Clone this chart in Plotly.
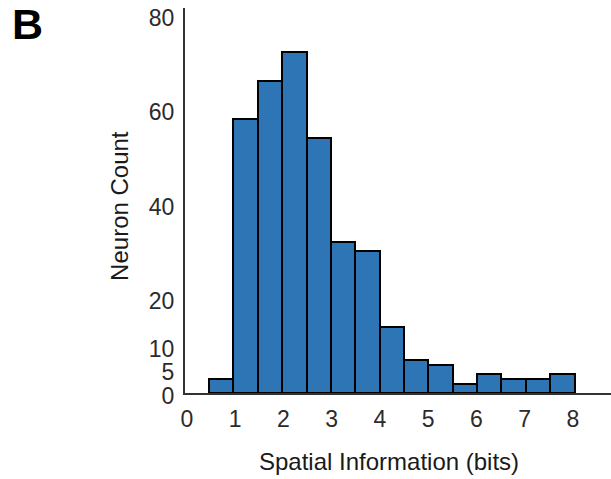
import plotly.graph_objects as go

# Histogram of spatial information per neuron (bin edges start at 0.46, width 0.505 bits)
bin_start = 0.46
bin_width = 0.505
counts = [3, 58, 66, 72, 54, 32, 30, 14, 7, 6, 2, 4, 3, 3, 4]

y_tickvals = [0, 5, 10, 20, 40, 60, 80]
x_tickvals = [0, 1, 2, 3, 4, 5, 6, 7, 8]

centers = [bin_start + bin_width * (i + 0.5) for i in range(len(counts))]

FONT = "Liberation Sans, Arial, sans-serif"
TICK_COLOR = "#2b2b2b"

fig = go.Figure(
    go.Bar(
        x=centers,
        y=counts,
        width=[bin_width] * len(counts),
        marker=dict(color="#2E75B6", line=dict(color="#000000", width=2)),
        hoverinfo="x+y",
    )
)

fig.update_layout(
    width=611,
    height=479,
    margin=dict(l=185, r=0, t=8, b=86),
    plot_bgcolor="white",
    paper_bgcolor="white",
    showlegend=False,
    font=dict(family=FONT, size=23, color=TICK_COLOR),
    bargap=0,
)

fig.update_xaxes(
    range=[-0.04, 8.79],
    tickvals=x_tickvals,
    ticks="",
    showgrid=False,
    zeroline=False,
    showline=True,
    linecolor="#333333",
    linewidth=2,
    tickfont=dict(family=FONT, size=23, color=TICK_COLOR),
    ticklabelstandoff=4,
)

fig.update_yaxes(
    range=[0, 81.4],
    tickvals=y_tickvals,
    ticks="",
    showgrid=False,
    zeroline=False,
    showline=True,
    linecolor="#333333",
    linewidth=2,
    tickfont=dict(family=FONT, size=23, color=TICK_COLOR),
    ticklabelstandoff=4,
    ticklabelshift=3,
    ticklabeloverflow="allow",
)

# Axis titles and panel letter
fig.add_annotation(
    text="Spatial Information (bits)",
    xref="paper", yref="paper", x=0.478, y=0,
    xanchor="center", yanchor="middle", yshift=-68,
    showarrow=False, font=dict(family=FONT, size=24, color="#1a1a1a"),
)
fig.add_annotation(
    text="Neuron Count",
    xref="paper", yref="paper", x=0, y=0.486,
    xanchor="center", yanchor="middle", xshift=-65,
    textangle=-90,
    showarrow=False, font=dict(family=FONT, size=24, color="#1a1a1a"),
)
fig.add_annotation(
    text="<b>B</b>",
    xref="paper", yref="paper", x=0, y=1,
    xanchor="center", yanchor="middle", xshift=-158, yshift=-16,
    showarrow=False, font=dict(family=FONT, size=43, color="#000000"),
)

fig.write_html("out.html")
